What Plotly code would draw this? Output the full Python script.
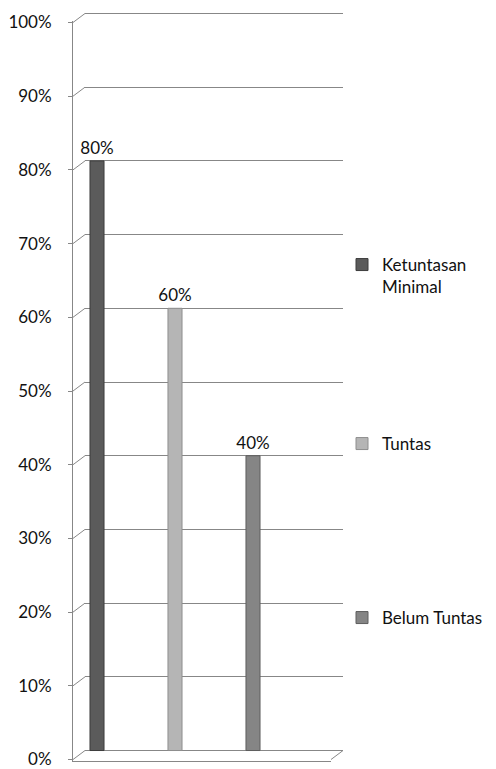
import plotly.graph_objects as go

# --- data -------------------------------------------------------------
series_names = ["Ketuntasan<br>Minimal", "Tuntas", "Belum Tuntas"]
series_values = [0.80, 0.60, 0.40]
series_colors = ["#5b5b5b", "#b5b5b5", "#858585"]
outline_colors = ["#3c3c3c", "#8e8e8e", "#5e5e5e"]
tick_values = [0.0, 0.1, 0.2, 0.3, 0.4, 0.5, 0.6, 0.7, 0.8, 0.9, 1.0]
tick_labels = ["0%", "10%", "20%", "30%", "40%", "50%", "60%", "70%", "80%", "90%", "100%"]

W, H = 496, 769
FONT = "Lato"
TXT = "#111111"
GRID = "#878787"


def px(x):
    return x / W


def py(y):
    return 1 - y / H


# back wall (gridlines) and front face (axis, labels) of the pseudo-3D frame
back_x = [px(85), px(343)]
back_y = [py(752), py(12)]
front_x = [px(73), px(331)]
front_y = [py(761), py(21)]
EPS = 0.002  # small pad so the end gridlines / ticks are kept

fig = go.Figure()

for i, (name, val) in enumerate(zip(series_names, series_values)):
    legend_id = "legend" if i == 0 else f"legend{i + 1}"
    fig.add_trace(go.Bar(
        x=[i], y=[val], name=name, width=0.18,
        marker=dict(color=series_colors[i],
                    line=dict(color=outline_colors[i], width=1)),
        text=[f"{val:.0%}"], textposition="outside", constraintext="none",
        textfont=dict(family=FONT, size=17, color=TXT),
        cliponaxis=False, hoverinfo="skip",
        legend=legend_id, xaxis="x", yaxis="y",
    ))

# empty trace so the front axes get drawn
fig.add_trace(go.Scatter(x=[None], y=[None], xaxis="x2", yaxis="y2",
                         showlegend=False, hoverinfo="skip"))


def to_paper(dom, v, lo, hi):
    return dom[0] + (v - lo) / (hi - lo) * (dom[1] - dom[0])


# diagonal connectors between front ticks and back gridlines
shapes = []
for v in tick_values:
    shapes.append(dict(type="line", xref="paper", yref="paper",
                       x0=front_x[0], y0=to_paper(front_y, v, -EPS, 1 + EPS),
                       x1=back_x[0], y1=to_paper(back_y, v, -EPS, 1 + EPS),
                       line=dict(color=GRID, width=1)))
# right edge of the floor
shapes.append(dict(type="line", xref="paper", yref="paper",
                   x0=front_x[1], y0=to_paper(front_y, 0, -EPS, 1 + EPS),
                   x1=back_x[1], y1=to_paper(back_y, 0, -EPS, 1 + EPS),
                   line=dict(color=GRID, width=1)))

legend_common = dict(font=dict(family=FONT, size=17, color=TXT),
                     bgcolor="rgba(0,0,0,0)", xanchor="left", yanchor="middle",
                     valign="top", itemclick=False, itemdoubleclick=False)

fig.update_layout(
    width=W, height=H,
    margin=dict(l=0, r=0, t=0, b=0),
    paper_bgcolor="white", plot_bgcolor="rgba(0,0,0,0)",
    showlegend=True,
    barmode="overlay",
    xaxis=dict(domain=back_x, range=[-0.154, 3.154], showgrid=False,
               zeroline=False, showticklabels=False, ticks="", automargin=False),
    yaxis=dict(domain=back_y, range=[-EPS, 1 + EPS], tickvals=tick_values,
               showgrid=True, gridcolor=GRID, gridwidth=1,
               zeroline=False, showticklabels=False, ticks="", automargin=False),
    xaxis2=dict(domain=front_x, range=[0, 1], anchor="y2", showgrid=False,
                zeroline=False, showticklabels=False, ticks="",
                showline=True, linecolor=GRID, linewidth=1, automargin=False),
    yaxis2=dict(domain=front_y, range=[-EPS, 1 + EPS], anchor="x2",
                tickvals=tick_values, ticktext=tick_labels,
                showgrid=False, zeroline=False,
                showline=True, linecolor=GRID, linewidth=1,
                ticks="outside", ticklen=4, tickcolor=GRID,
                ticklabelstandoff=13, ticklabeloverflow="allow",
                tickfont=dict(family=FONT, size=17, color=TXT),
                automargin=False),
    shapes=shapes,
    legend=dict(x=px(342), y=py(276), **legend_common),
    legend2=dict(x=px(342), y=py(444), **legend_common),
    legend3=dict(x=px(342), y=py(618), **legend_common),
)

fig.write_html("out.html")
